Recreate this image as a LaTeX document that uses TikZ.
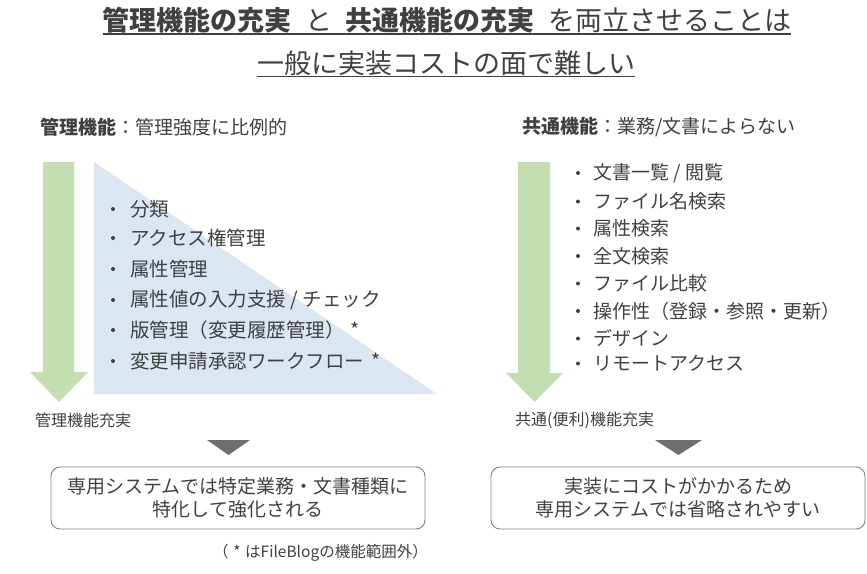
\documentclass[tikz,border=0pt]{standalone}
\usepackage{fontspec}
\setmainfont{Noto Sans CJK JP}
\definecolor{txt}{HTML}{404040}
\definecolor{grn}{HTML}{C3DEB1}
\definecolor{blu}{HTML}{DCE6F2}
\definecolor{tri}{HTML}{6E6E6E}
\definecolor{bord}{HTML}{808080}
\tikzset{
  title/.style={inner sep=0pt, text=txt, font=\fontsize{27}{30}\selectfont},
  uline/.style={draw=txt, line width=1.5pt},
  subhead/.style={inner sep=0pt, anchor=west, text=txt, font=\fontsize{19}{22}\selectfont},
  itemL/.style={inner sep=0pt, anchor=west, text=txt, font=\fontsize{19.5}{22}\selectfont},
  itemR/.style={inner sep=0pt, anchor=west, text=txt, font=\fontsize{19}{22}\selectfont},
  dot/.style={circle, fill=txt, inner sep=0pt, minimum size=4pt},
  lbl/.style={inner sep=0pt, anchor=west, text=txt, font=\fontsize{16}{19}\selectfont},
  resbox/.style={draw=bord, line width=0.9pt, rounded corners=9pt, minimum width=374pt, minimum height=62pt, align=center, text=txt, font=\fontsize{19}{23}\selectfont},
  note/.style={inner sep=0pt, anchor=west, text=txt, font=\fontsize{15.5}{18}\selectfont}
}
\begin{document}
\begin{tikzpicture}[x=1pt,y=-1pt]
\useasboundingbox (0,0) rectangle (867,573);
% title
\node[title] (t1) at (447,20) {\textbf{管理機能の充実}\hspace{.5em}と\hspace{.5em}\textbf{共通機能の充実}\hspace{.5em}を両立させることは};
\node[title] (t2) at (446,63) {一般に実装コストの面で難しい};
\draw[uline] ([yshift=-1pt]t1.south west) -- ([yshift=-1pt]t1.south east);
\draw[uline] ([yshift=-1pt]t2.south west) -- ([yshift=-1pt]t2.south east);
% subheads
\node[subhead] (hl) at (40,127) {\textbf{管理機能}：管理強度に比例的};
\node[subhead] (hr) at (522,127) {\textbf{共通機能}：業務/文書によらない};
% left side
\fill[grn] (43,162) -- (74,162) -- (74,372) -- (88,372) -- (59,402) -- (30,372) -- (43,372) -- cycle;
\fill[blu] (94,162) -- (94,394) -- (437,394) -- cycle;
\foreach \i/\y/\t in {1/209/{分類}, 2/238/{アクセス権管理}, 3/269/{属性管理}, 4/300/{属性値の入力支援 / チェック}, 5/330/{版管理（変更履歴管理）\hspace{.3em}*}, 6/361/{変更申請承認ワークフロー\hspace{.4em}*}}{
  \node[dot] (lb\i) at (113,\y) {};
  \node[itemL] (li\i) at (130,\y) {\t};
}
\node[lbl] (ll) at (35,420) {管理機能充実};
% right side
\fill[grn] (518,162) -- (550,162) -- (550,373) -- (563,373) -- (534.5,402) -- (506,373) -- (518,373) -- cycle;
\foreach \i/\y/\t in {1/173/{文書一覧 / 閲覧}, 2/201.5/{ファイル名検索}, 3/228.5/{属性検索}, 4/256/{全文検索}, 5/283.5/{ファイル比較}, 6/311/{操作性（登録・参照・更新）}, 7/338.5/{デザイン}, 8/363.5/{リモートアクセス}}{
  \node[dot] (rb\i) at (578,\y) {};
  \node[itemR] (ri\i) at (593,\y) {\t};
}
\node[lbl] (rl) at (515,420) {共通(便利)機能充実};
% down triangles
\fill[tri] (207,440) -- (250,440) -- (228.5,455) -- cycle;
\fill[tri] (655,440) -- (702,440) -- (678.5,455) -- cycle;
% result boxes
\node[resbox] (bl) at (238,498) {専用システムでは特定業務・文書種類に\\特化して強化される};
\node[resbox] (br) at (678,498) {実装にコストがかかるため\\専用システムでは省略されやすい};
% footnote
\node[note] (fn) at (213,553) {（\hspace{.3em}*\hspace{.3em}はFileBlogの機能範囲外）};
\end{tikzpicture}
\end{document}
